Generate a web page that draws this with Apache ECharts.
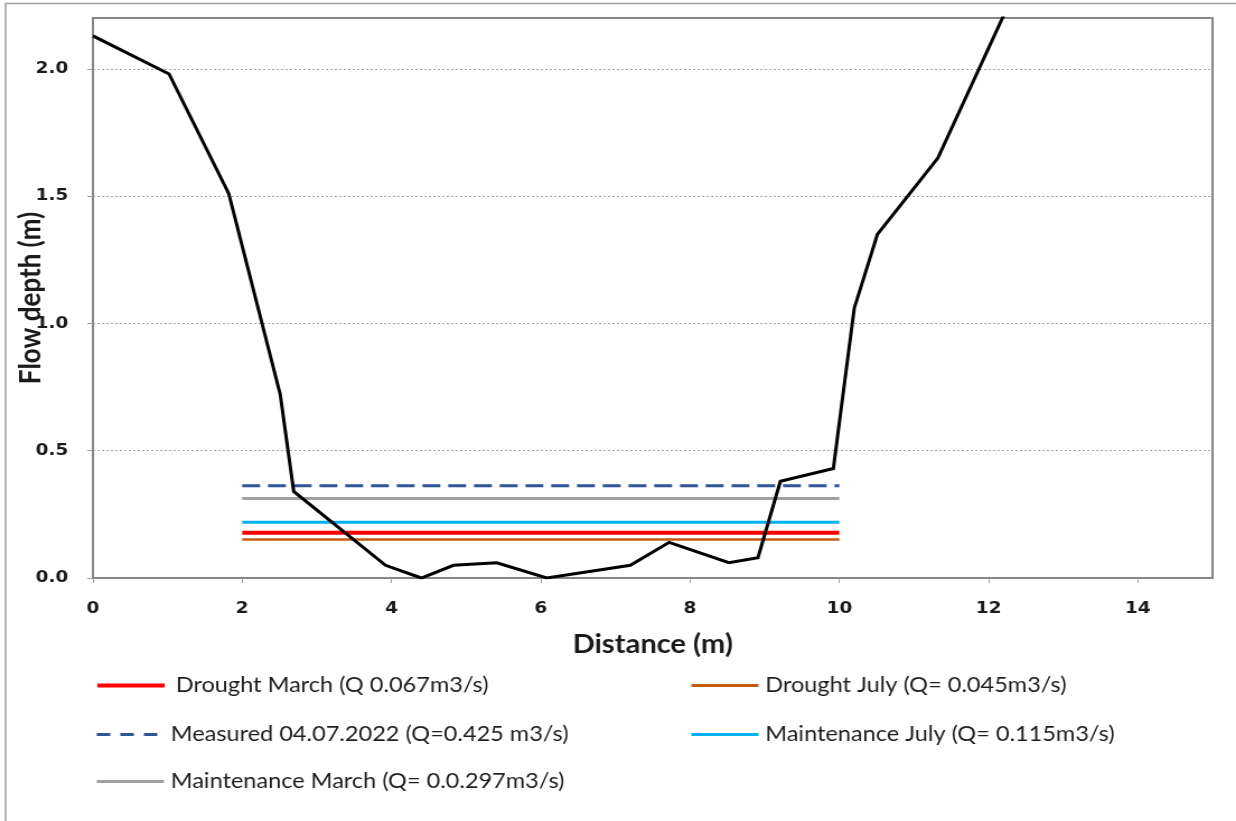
<!DOCTYPE html>
<html>
<head>
<meta charset="utf-8">
<script src="https://cdn.jsdelivr.net/npm/echarts@6/dist/echarts.min.js"></script>
<style>
  html, body { margin: 0; padding: 0; background: #ffffff; overflow: hidden; }
  /* The chart is laid out on a narrower canvas and widened to the page width */
  #chart { width: 1104px; height: 821px; transform: scaleX(1.1196); transform-origin: 0 0; }
</style>
</head>
<body>
<div id="chart"></div>
<script>
// Channel cross-section: bed profile (distance, depth)
const profileDistance = [0, 1.02, 1.82, 2.51, 2.69, 3.92, 4.40, 4.83, 5.41, 6.08, 7.20, 7.72, 8.52, 8.91, 9.21, 9.92, 10.20, 10.51, 11.32, 12.50];
const profileDepth    = [2.13, 1.98, 1.51, 0.72, 0.34, 0.05, 0.00, 0.05, 0.06, 0.00, 0.05, 0.14, 0.06, 0.08, 0.38, 0.43, 1.06, 1.35, 1.65, 2.40];

// Water levels for each flow scenario, drawn across the channel
const levelStart = 2;
const levelEnd = 10;
const levelNames = [
  'Drought March (Q 0.067m3/s)',
  'Drought July (Q= 0.045m3/s)',
  'Measured 04.07.2022 (Q=0.425 m3/s)',
  'Maintenance July (Q= 0.115m3/s)',
  'Maintenance March (Q= 0.0.297m3/s)'
];
const levelDepths = [0.178, 0.151, 0.362, 0.219, 0.312];
const levelColors = ['#FF0000', '#C55A11', '#2F5597', '#00B0F0', '#A0A0A0'];

// Axis ticks
const xTicks = [0, 2, 4, 6, 8, 10, 12, 14];
const yTicks = [0, 0.5, 1.0, 1.5, 2.0];

const FONT = 'Lato';
const TICK_FONT = 'DejaVu Sans';

const levelStyles = [
  { width: 4, type: 'solid', legendType: 'solid' },
  { width: 2.5, type: 'solid', legendType: 'solid' },
  { width: 3, type: [16, 7], legendType: [12, 9] },
  { width: 3, type: 'solid', legendType: 'solid' },
  { width: 3, type: 'solid', legendType: 'solid' }
];

const levelSeries = levelNames.map((name, i) => ({
  name: name,
  type: 'line',
  symbol: 'none',
  silent: true,
  data: [[levelStart, levelDepths[i]], [levelEnd, levelDepths[i]]],
  lineStyle: { color: levelColors[i], width: levelStyles[i].width, type: levelStyles[i].type, cap: 'butt' },
  itemStyle: { color: levelColors[i] },
  z: 2
}));

const profileSeries = {
  name: 'Bed profile',
  type: 'line',
  symbol: 'none',
  silent: true,
  clip: true,
  data: profileDistance.map((d, i) => [d, profileDepth[i]]),
  lineStyle: { color: '#000000', width: 3, join: 'miter' },
  z: 3
};

// Legend layout: two columns, three rows
const legendPos = [
  { left: 85, top: 675, pad: 5 },
  { left: 616, top: 675, pad: 1 },
  { left: 85, top: 724, pad: 1 },
  { left: 616, top: 724, pad: 1 },
  { left: 85, top: 771, pad: 1 }
];
const legends = levelNames.map((name, i) => ({
  data: [name],
  left: legendPos[i].left,
  top: legendPos[i].top,
  itemWidth: 60,
  itemHeight: 14,
  selectedMode: false,
  padding: 0,
  itemStyle: { opacity: 0 },
  lineStyle: {
    width: Math.max(3, levelStyles[i].width),
    type: levelStyles[i].legendType,
    color: levelColors[i],
    cap: 'butt'
  },
  textStyle: {
    fontFamily: FONT,
    fontSize: 21,
    color: '#1e1e1e',
    padding: [0, 0, 0, legendPos[i].pad]
  }
}));

const chart = echarts.init(document.getElementById('chart'), null, { renderer: 'canvas' });
chart.setOption({
  backgroundColor: '#ffffff',
  animation: false,
  textStyle: { fontFamily: FONT },
  grid: {
    left: 83, right: 21, top: 18, bottom: 243,
    outerBoundsMode: 'none',
    containLabel: false,
    show: true, borderColor: '#868686', borderWidth: 2, backgroundColor: 'transparent'
  },
  legend: legends,
  xAxis: {
    type: 'value',
    min: 0, max: 15, interval: 2,
    name: 'Distance (m)',
    nameLocation: 'middle',
    nameGap: 54,
    nameMoveOverlap: false,
    nameTextStyle: { fontFamily: FONT, fontSize: 26, fontWeight: 'bold', color: '#1a1a1a' },
    axisLine: { show: true, onZero: false, lineStyle: { color: '#868686', width: 2 } },
    axisTick: { show: true, length: 5, customValues: xTicks, lineStyle: { color: '#a0a0a0', width: 1 } },
    axisLabel: {
      customValues: xTicks,
      margin: 22,
      fontFamily: TICK_FONT, fontSize: 16.5, fontWeight: 'bold', color: '#1a1a1a',
      formatter: v => String(v)
    },
    splitLine: { show: false }
  },
  yAxis: {
    type: 'value',
    min: 0, max: 2.2, interval: 0.5,
    name: 'Flow depth (m)',
    nameLocation: 'middle',
    nameGap: 42,
    nameMoveOverlap: false,
    nameTextStyle: { fontFamily: FONT, fontSize: 26, fontWeight: 'bold', color: '#1a1a1a' },
    axisLine: { show: true, lineStyle: { color: '#868686', width: 2 } },
    axisTick: { show: true, length: 5, customValues: yTicks, lineStyle: { color: '#a0a0a0', width: 1 } },
    axisLabel: {
      customValues: yTicks,
      margin: 22,
      fontFamily: TICK_FONT, fontSize: 16.5, fontWeight: 'bold', color: '#1a1a1a',
      formatter: v => v.toFixed(1)
    },
    splitLine: { show: true, lineStyle: { color: '#a6a6a6', width: 1, type: [2, 2] } }
  },
  graphic: [
    {
      type: 'polyline',
      silent: true,
      shape: { points: [[5, 821], [5, 3.5], [1104, 3.5]] },
      style: { stroke: '#a0a0a0', lineWidth: 1.5, fill: null }
    }
  ],
  series: levelSeries.concat([profileSeries])
});
</script>
</body>
</html>
